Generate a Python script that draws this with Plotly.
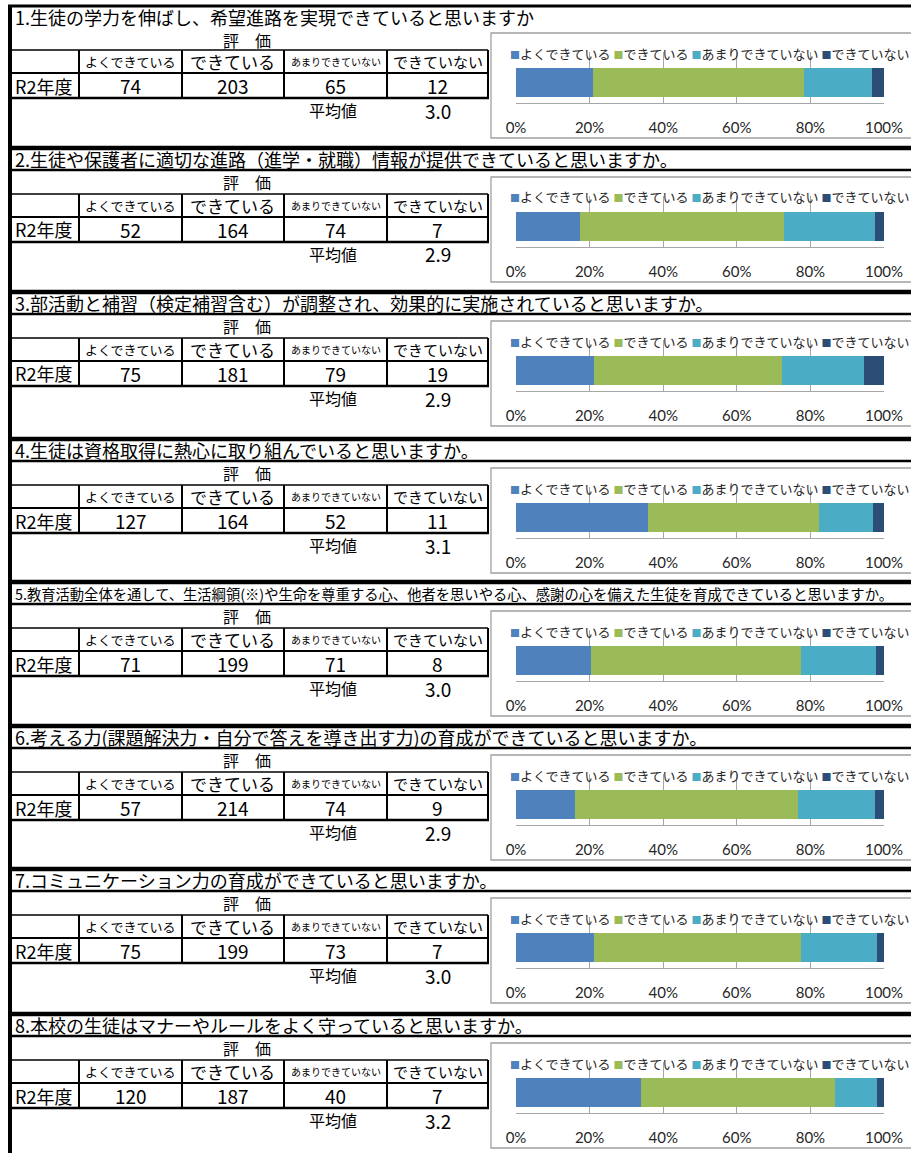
import plotly.graph_objects as go

# ---------------- data ----------------
titles = [
    "1.生徒の学力を伸ばし、希望進路を実現できていると思いますか",
    "2.生徒や保護者に適切な進路（進学・就職）情報が提供できていると思いますか。",
    "3.部活動と補習（検定補習含む）が調整され、効果的に実施されていると思いますか。",
    "4.生徒は資格取得に熱心に取り組んでいると思いますか。",
    "5.教育活動全体を通して、生活綱領(※)や生命を尊重する心、他者を思いやる心、感謝の心を備えた生徒を育成できていると思いますか。",
    "6.考える力(課題解決力・自分で答えを導き出す力)の育成ができていると思いますか。",
    "7.コミュニケーション力の育成ができていると思いますか。",
    "8.本校の生徒はマナーやルールをよく守っていると思いますか。",
]
categories = ["よくできている", "できている", "あまりできていない", "できていない"]
row_label = "R2年度"
header_label = "評　価"
avg_label = "平均値"

very_well = [74, 52, 75, 127, 71, 57, 75, 120]
well = [203, 164, 181, 164, 199, 214, 199, 187]
not_much = [65, 74, 79, 52, 71, 74, 73, 40]
not_at_all = [12, 7, 19, 11, 8, 9, 7, 7]
averages = ["3.0", "2.9", "2.9", "3.1", "3.0", "2.9", "3.0", "3.2"]

tick_vals = [0, 20, 40, 60, 80, 100]
tick_labels = ["0%", "20%", "40%", "60%", "80%", "100%"]

colors = ["#4F81BD", "#9BBB59", "#4BACC6", "#2C4D75"]

# ---------------- layout geometry (pixels) ----------------
W, HT = 911, 1153
def X(p):
    return p / W
def Y(p):
    return 1 - p / HT

section_y = [50, 194, 338, 485, 628, 772, 915, 1060]
col_edges = [12, 79, 182, 284, 387, 488]
header_sizes = [13, 17, 10, 15]
FONT = "Noto Sans CJK JP"

series = [very_well, well, not_much, not_at_all]

fig = go.Figure()
shapes = []
annotations = []
layout_axes = {}

def line(x0, y0, x1, y1, width, color="black"):
    shapes.append(dict(type="line", xref="paper", yref="paper",
                       x0=X(x0), x1=X(x1), y0=Y(y0), y1=Y(y1),
                       line=dict(color=color, width=width)))

def text(t, x, y, size, anchor="center", color="black", family=FONT):
    annotations.append(dict(text=t, xref="paper", yref="paper", x=X(x), y=Y(y),
                            xanchor=anchor, yanchor="middle", showarrow=False,
                            font=dict(family=family, size=size, color=color)))

for k in range(8):
    H = section_y[k]
    xa = "x" if k == 0 else f"x{k+1}"
    ya = "y" if k == 0 else f"y{k+1}"
    total = sum(s[k] for s in series)
    for j, s in enumerate(series):
        fig.add_trace(go.Bar(
            x=[s[k] / total * 100], y=[0], orientation="h", width=1,
            marker=dict(color=colors[j], line=dict(width=0)),
            name=categories[j], showlegend=False,
            xaxis=xa, yaxis=ya,
            hovertemplate=categories[j] + ": %{x:.1f}%<extra></extra>",
        ))
    xkey = "xaxis" if k == 0 else f"xaxis{k+1}"
    ykey = "yaxis" if k == 0 else f"yaxis{k+1}"
    layout_axes[xkey] = dict(
        domain=[X(516), X(884)], range=[0, 100], anchor=ya,
        tickvals=tick_vals, ticktext=tick_labels,
        showgrid=True, gridcolor="#a6a6a6", gridwidth=1,
        showline=True, linecolor="#a6a6a6", linewidth=1,
        zeroline=False, ticks="", fixedrange=True, automargin=False,
        tickfont=dict(family="Lato", size=15, color="#262626"),
        ticklabelstandoff=11,
    )
    layout_axes[ykey] = dict(
        domain=[Y(H + 53), Y(H + 2)], range=[-0.707, 1.052], anchor=xa,
        visible=False, fixedrange=True, automargin=False,
    )

    # ---- section frame lines ----
    if k == 0:
        line(8, 6, 915, 6, 3)
    else:
        line(8, H - 46, 915, H - 46, 4.5)
        line(12, H - 24, 915, H - 24, 2.5)
    # table lines
    line(12, H, 488, H, 1.5)
    line(12, H + 23, 488, H + 23, 2)
    line(12, H + 48, 489, H + 48, 2.5)
    for ce in col_edges[1:]:
        line(ce, H, ce, H + 48, 2)
    # chart box
    shapes.append(dict(type="rect", xref="paper", yref="paper",
                       x0=X(491), x1=X(916), y0=Y(H - 17), y1=Y(H + 88),
                       line=dict(color="#a0a0a0", width=1.3), layer="below"))

    # ---- texts ----
    text(titles[k], 13, H - 33 if k == 0 else H - 35, 14.3 if k == 4 else 18, anchor="left")
    text(header_label, 247, H - 10 if k == 0 else H - 12, 16)
    for j in range(4):
        cx = (col_edges[j + 1] + col_edges[j + 2]) / 2
        text(categories[j], cx, H + 11.5, header_sizes[j])
        text(str(series[j][k]), cx, H + 35.5, 19)
    text(row_label, 13, H + 35.5, 18, anchor="left")
    text(avg_label, 333, H + 60, 16)
    text(averages[k], (col_edges[4] + col_edges[5]) / 2, H + 60, 19)
    # legend row
    legend_text = "&nbsp;".join(
        f'<span style="color:{colors[j]};font-size:10px">■</span>{categories[j]}'
        for j in range(4))
    text(legend_text, 508, H + 3, 13, anchor="left", color="#262626")

# left thick border
line(10, 5, 10, 1160, 4)

fig.update_layout(
    width=W, height=HT, autosize=False,
    margin=dict(l=0, r=0, t=0, b=0, pad=0),
    paper_bgcolor="white", plot_bgcolor="white",
    barmode="stack", showlegend=False,
    shapes=shapes, annotations=annotations,
    **layout_axes,
)

fig.write_html("out.html")
